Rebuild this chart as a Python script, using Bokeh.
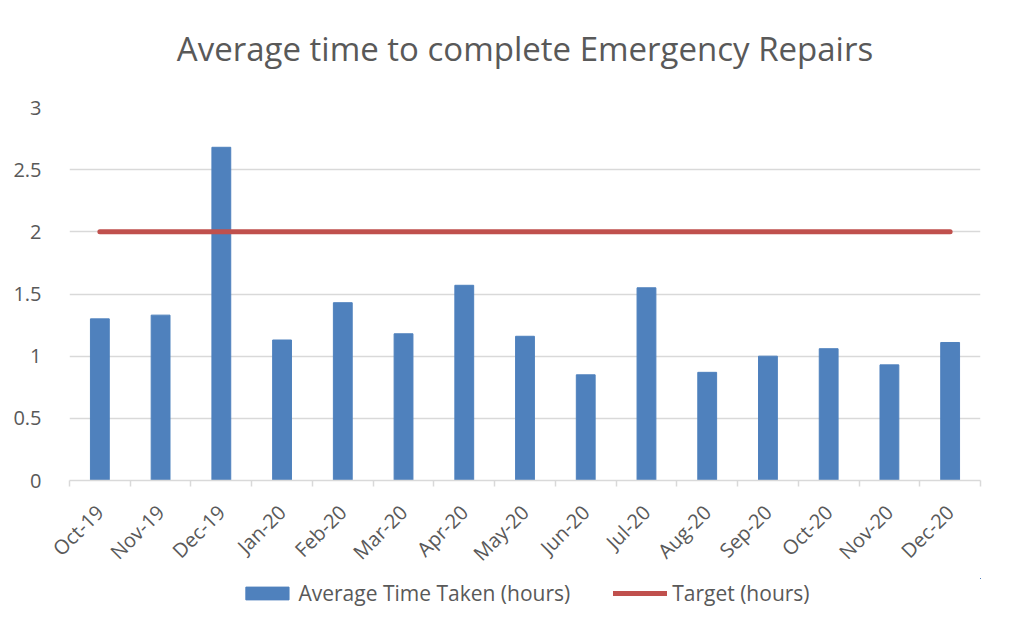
import numpy as np
from bokeh.plotting import figure
from bokeh.layouts import column
from bokeh.core.properties import value
from bokeh.models import ColumnDataSource, FixedTicker, Legend, LegendItem, Range1d
from bokeh.embed import file_html
from bokeh.resources import INLINE

title_text = "Average time to complete Emergency Repairs"
months = ["Oct-19", "Nov-19", "Dec-19", "Jan-20", "Feb-20", "Mar-20", "Apr-20", "May-20",
          "Jun-20", "Jul-20", "Aug-20", "Sep-20", "Oct-20", "Nov-20", "Dec-20"]
avg_time = [1.30, 1.33, 2.68, 1.13, 1.43, 1.18, 1.57, 1.16, 0.85, 1.55, 0.87, 1.00, 1.06, 0.93, 1.11]
target = [2] * len(months)
y_ticks = [0, 0.5, 1, 1.5, 2, 2.5, 3]

FONT = "Open Sans"
TXT = "#595959"
GRID = "#D9D9D9"
BLUE = "#4F81BD"
RED = "#C0504D"

x = np.arange(len(months)) + 0.5
src = ColumnDataSource(dict(x=x, avg=avg_time, target=target, month=months))

# header strip with the title
hdr = figure(width=1012, height=86, output_backend="svg", toolbar_location=None,
             x_range=Range1d(0, 1), y_range=Range1d(0, 1),
             min_border_left=0, min_border_right=0, min_border_top=0, min_border_bottom=0)
hdr.axis.visible = False
hdr.grid.visible = False
hdr.outline_line_color = None
hdr.text(x=[0.5], y=[0.5], text=[title_text], text_align="center", text_baseline="middle",
         y_offset=5, text_font=value(FONT), text_font_size="33px", text_color=TXT)

p = figure(frame_width=911, frame_height=373, output_backend="svg", toolbar_location=None,
           x_range=Range1d(0, len(months)), y_range=Range1d(0, 3),
           min_border_left=69, min_border_right=32, min_border_top=21, min_border_bottom=80)

bars = p.vbar(x="x", top="avg", width=0.31, source=src, fill_color=BLUE, line_color=BLUE)
line = p.line(x="x", y="target", source=src, line_color=RED, line_width=5, line_cap="round")

p.outline_line_color = None
p.xgrid.grid_line_color = None
p.ygrid.grid_line_color = GRID
p.ygrid.grid_line_width = 1.5

p.yaxis.ticker = FixedTicker(ticks=y_ticks)
p.yaxis.axis_line_color = None
p.yaxis.major_tick_line_color = None
p.yaxis.minor_tick_line_color = None
p.yaxis.major_label_text_font = FONT
p.yaxis.major_label_text_font_size = "20px"
p.yaxis.major_label_text_color = TXT
p.yaxis.major_label_standoff = 22

p.xaxis.ticker = FixedTicker(ticks=list(x), minor_ticks=list(range(len(months) + 1)))
p.xaxis.major_label_overrides = {float(xi): m for xi, m in zip(x, months)}
p.xaxis.axis_line_color = GRID
p.xaxis.axis_line_width = 1.5
p.xaxis.major_tick_line_color = None
p.xaxis.minor_tick_line_color = GRID
p.xaxis.minor_tick_line_width = 1.5
p.xaxis.minor_tick_out = 6
p.xaxis.minor_tick_in = 0
p.xaxis.major_label_orientation = np.pi / 4
p.xaxis.major_label_text_font = FONT
p.xaxis.major_label_text_font_size = "20px"
p.xaxis.major_label_text_color = TXT
p.xaxis.major_label_standoff = 22

# legend strip below the chart (its glyphs use the same data, out of view)
lg = figure(width=1012, height=30, output_backend="svg", toolbar_location=None,
            x_range=Range1d(-200, -199), y_range=Range1d(-200, -199),
            min_border_left=32, min_border_right=0, min_border_top=0, min_border_bottom=0)
lg.axis.visible = False
lg.grid.visible = False
lg.outline_line_color = None
sw_bar = lg.vbar(x="x", top="avg", width=0.31, source=src, fill_color=BLUE, line_color=BLUE)
sw_line = lg.line(x="x", y="target", source=src, line_color=RED, line_width=5, line_cap="round")
legend = Legend(items=[LegendItem(label="Average Time Taken (hours)", renderers=[sw_bar]),
                       LegendItem(label="Target (hours)", renderers=[sw_line])],
                orientation="horizontal", location="center", border_line_color=None,
                label_text_font=FONT, label_text_font_size="21px", label_text_color=TXT,
                glyph_width=54, glyph_height=16, spacing=43, label_standoff=5,
                background_fill_alpha=0, margin=0, padding=0)
lg.add_layout(legend, "center")

layout = column(hdr, p, lg, spacing=0)
open("out.html", "w").write(file_html(layout, INLINE))
